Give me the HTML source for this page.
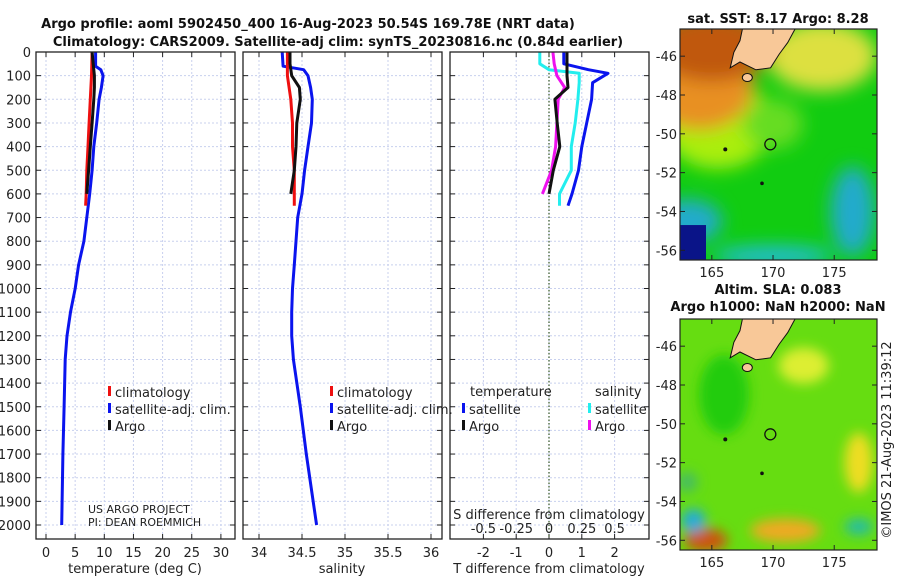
<!DOCTYPE html>
<html><head><meta charset="utf-8">
<style>
body{margin:0;background:#fff;width:900px;height:580px;overflow:hidden;font-family:"Liberation Sans","DejaVu Sans",sans-serif;}
svg text{font-family:"DejaVu Sans","Liberation Sans",sans-serif;}
</style></head>
<body>
<svg id="chart" width="900" height="580" viewBox="0 0 900 580" xmlns="http://www.w3.org/2000/svg">
<text x="308" y="28" font-size="13" font-weight="bold" text-anchor="middle" fill="#111">Argo profile: aoml 5902450_400 16-Aug-2023 50.54S 169.78E (NRT data)</text>
<text x="338" y="46" font-size="13" font-weight="bold" text-anchor="middle" fill="#111">Climatology: CARS2009. Satellite-adj clim: synTS_20230816.nc (0.84d earlier)</text>
<g id="panels"></g>
<g id="maps"></g>
</svg>
<script>
// ---------- DATA ----------
const depthTicks=[0,100,200,300,400,500,600,700,800,900,1000,1100,1200,1300,1400,1500,1600,1700,1800,1900,2000];
const tTicks=[0,5,10,15,20,25,30];
const sTicks=[34,34.5,35,35.5,36];
const sTickLabels=["34","34.5","35","35.5","36"];
const dTTicks=[-2,-1,0,1,2];
const dSTickLabels=["-0.5","-0.25","0","0.25","0.5"];

const climDepth=[0,50,100,200,300,400,500,600,650];
const climT=[7.9,7.85,7.8,7.6,7.4,7.2,7.0,6.9,6.8];
const argoDepth=[0,50,100,150,200,300,400,500,600];
const argoT=[7.9,8.1,8.3,8.3,8.2,7.9,7.6,7.3,7.0];
const satDepth=[0,60,75,100,150,200,300,400,500,600,700,800,900,1000,1100,1200,1300,1500,1700,2000];
const satT=[8.5,8.5,9.4,9.8,9.5,9.1,8.7,8.2,7.9,7.5,7.0,6.5,5.6,5.0,4.2,3.6,3.3,3.1,2.9,2.7];

const climS=[34.33,34.33,34.33,34.37,34.39,34.39,34.41,34.41,34.41];
const argoS=[34.36,34.36,34.38,34.47,34.48,34.44,34.43,34.41,34.37];
const satS=[34.27,34.28,34.52,34.57,34.6,34.62,34.61,34.57,34.53,34.5,34.45,34.43,34.41,34.39,34.38,34.38,34.4,34.48,34.55,34.67];

const diffDepth=[0,50,75,90,130,200,300,400,500,600,650];
const satDT=[0.45,0.45,1.2,1.8,1.33,1.3,1.15,1.0,0.9,0.7,0.58];
const argoDTDepth=[0,50,100,150,200,300,400,500,600];
const argoDT=[0.55,0.55,0.55,0.58,0.18,0.25,0.33,0.13,0.0];
const satDS=[-0.07,-0.07,0.0,0.23,0.23,0.22,0.2,0.17,0.17,0.08,0.08];
const argoDS=[0.03,0.04,0.06,0.12,0.07,0.06,0.05,0.02,-0.05];

// ---------- HELPERS ----------
const NS="http://www.w3.org/2000/svg";
const root=document.getElementById('panels');
function mk(tag,attrs,parent){const e=document.createElementNS(NS,tag);for(const k in attrs)e.setAttribute(k,attrs[k]);(parent||root).appendChild(e);return e;}
const top0=52,bot0=539;
const y=d=>top0+d*0.2365;
function panel(x0,x1,name){
  const g=mk('g',{});
  
  
  return g;
}
function grid(g,x0,x1,xs){
  xs.forEach(px=>{const l=mk('line',{x1:px,x2:px,y1:top0,y2:bot0,stroke:'#c8d0ee','stroke-dasharray':'2,2','stroke-width':1},g);
    
    mk('line',{x1:px,x2:px,y1:top0,y2:top0+5,stroke:'#222'},g);mk('line',{x1:px,x2:px,y1:bot0,y2:bot0-5,stroke:'#222'},g);});
  depthTicks.forEach(d=>{const l=mk('line',{x1:x0,x2:x1,y1:y(d),y2:y(d),stroke:'#c8d0ee','stroke-dasharray':'2,2','stroke-width':1},g);
    
    mk('line',{x1:x0,x2:x0+5,y1:y(d),y2:y(d),stroke:'#222'},g);mk('line',{x1:x1,x2:x1-5,y1:y(d),y2:y(d),stroke:'#222'},g);});
}
function frame(g,x0,x1){const r=mk('rect',{x:x0,y:top0,width:x1-x0,height:bot0-top0,fill:'none',stroke:'#222','stroke-width':1.3},g);
  }
function line(g,xs,ds,fx,color,name,w){
  const pts=xs.map((v,i)=>fx(v).toFixed(1)+','+y(ds[i]).toFixed(1)).join(' ');
  const p=mk('polyline',{points:pts,fill:'none',stroke:color,'stroke-width':w||3,'stroke-linejoin':'round'},g);
  
}
function text(g,x,yy,s,opts,name){const t=mk('text',Object.assign({x:x,y:yy,'font-size':13,fill:'#222'},opts||{}),g);t.textContent=s;
  return t;}
function legendItem(g,x,yy,color,label,name){
  const r=mk('rect',{x:x,y:yy-11,width:3,height:10,fill:color},g);
  
  text(g,x+7,yy,label,{},name);
}

// ---------- PANEL 1: temperature ----------
{const x0=36,x1=235;const fx=v=>46+v*5.83;
 const g=panel(x0,x1,'temperature-panel');
 grid(g,x0,x1,tTicks.map(fx));
 line(g,satT,satDepth,fx,'#0a14ee','temp-satellite-line');
 line(g,climT,climDepth,fx,'#ee1010','temp-climatology-line');
 line(g,argoT,argoDepth,fx,'#111','temp-argo-line');
 frame(g,x0,x1);
 depthTicks.forEach(d=>text(g,31,y(d)+5,String(d),{'text-anchor':'end'},'depth-tick-label'));
 tTicks.forEach(v=>text(g,fx(v),557,String(v),{'text-anchor':'middle'},'temp-tick-label'));
 text(g,135,573,'temperature (deg C)',{'text-anchor':'middle'},'temp-axis-title');
 legendItem(g,108,397,'#ee1010','climatology','legend-climatology');
 legendItem(g,108,414,'#0a14ee','satellite-adj. clim.','legend-satellite');
 legendItem(g,108,431,'#111','Argo','legend-argo');
 text(g,88,513,'US ARGO PROJECT',{'font-size':11},'project-label');
 text(g,88,526,'PI: DEAN ROEMMICH',{'font-size':11},'pi-label');
}
// ---------- PANEL 2: salinity ----------
{const x0=243,x1=442;const fx=v=>259+(v-34)*86;
 const g=panel(x0,x1,'salinity-panel');
 grid(g,x0,x1,sTicks.map(fx));
 line(g,satS,satDepth,fx,'#0a14ee','sal-satellite-line');
 line(g,climS,climDepth,fx,'#ee1010','sal-climatology-line');
 line(g,argoS,argoDepth,fx,'#111','sal-argo-line');
 frame(g,x0,x1);
 sTicks.forEach((v,i)=>text(g,fx(v),557,sTickLabels[i],{'text-anchor':'middle'},'sal-tick-label'));
 text(g,342,573,'salinity',{'text-anchor':'middle'},'sal-axis-title');
 legendItem(g,330,397,'#ee1010','climatology','legend-climatology-2');
 legendItem(g,330,414,'#0a14ee','satellite-adj. clim.','legend-satellite-2');
 legendItem(g,330,431,'#111','Argo','legend-argo-2');
}
// ---------- PANEL 3: differences ----------
{const x0=450,x1=649;const fT=v=>549+v*32.8;const fS=v=>549+v*131.2;
 const g=panel(x0,x1,'difference-panel');
 grid(g,x0,x1,dTTicks.map(fT));
 const z=mk('line',{x1:fT(0),x2:fT(0),y1:top0,y2:bot0,stroke:'#335522','stroke-dasharray':'1.5,2','stroke-width':1.2},g);
 
 line(g,satDT,diffDepth,fT,'#0a14ee','dT-satellite-line');
 line(g,satDS,diffDepth,fS,'#22eeee','dS-satellite-line');
 line(g,argoDS,argoDTDepth,fS,'#ee11ee','dS-argo-line');
 line(g,argoDT,argoDTDepth,fT,'#111','dT-argo-line');
 frame(g,x0,x1);
 dTTicks.forEach(v=>text(g,fT(v),557,String(v),{'text-anchor':'middle'},'dT-tick-label'));
 text(g,549,573,'T difference from climatology',{'text-anchor':'middle'},'dT-axis-title');
 [-0.5,-0.25,0,0.25,0.5].forEach((v,i)=>text(g,fS(v),533,dSTickLabels[i],{'text-anchor':'middle'},'dS-tick-label'));
 text(g,549,519,'S difference from climatology',{'text-anchor':'middle'},'dS-axis-title');
 text(g,470,396,'temperature',{},'legend-temperature-heading');
 text(g,595,396,'salinity',{},'legend-salinity-heading');
 legendItem(g,462,414,'#0a14ee','satellite','legend-dT-satellite');
 legendItem(g,462,431,'#111','Argo','legend-dT-argo');
 legendItem(g,588,414,'#22eeee','satellite','legend-dS-satellite');
 legendItem(g,588,431,'#ee11ee','Argo','legend-dS-argo');
}

// ---------- MAPS ----------
const mroot=document.getElementById('maps');
function m(tag,a,p){const e=document.createElementNS(NS,tag);for(const k in a)e.setAttribute(k,a[k]);(p||mroot).appendChild(e);return e;}
const defs=m('defs',{});
const f=m('filter',{id:'blur'},defs);m('feGaussianBlur',{stdDeviation:'9'},f);
const f2=m('filter',{id:'blur2'},defs);m('feGaussianBlur',{stdDeviation:'6'},f2);
function map(y0,y1,latTop,latBot,name,kind){
  const x0=680,x1=877;
  const g=m('g',{});
  
  const cp=m('clipPath',{id:'cp'+name},defs);m('rect',{x:x0,y:y0,width:x1-x0,height:y1-y0},cp);
  const inner=m('g',{'clip-path':'url(#cp'+name+')'},g);
  const lon=v=>x0+(v-162.4)*12.24;
  const lat=v=>y0+(latTop-v)/(latTop-latBot)*(y1-y0);
  if(kind==='sst'){
    m('rect',{x:x0,y:y0,width:x1-x0,height:y1-y0,fill:'#11cc11'},inner);
    const bl=m('g',{filter:'url(#blur)'},inner);
    m('ellipse',{cx:lon(165.5),cy:lat(-49.5),rx:55,ry:45,fill:'#aaee11'},bl);
    m('ellipse',{cx:lon(174),cy:lat(-46),rx:55,ry:35,fill:'#dde040'},bl);
    m('ellipse',{cx:lon(164),cy:lat(-47.5),rx:55,ry:45,fill:'#e89020'},bl);
    m('ellipse',{cx:lon(165),cy:lat(-45.5),rx:60,ry:35,fill:'#c05810'},bl);
    m('ellipse',{cx:lon(170),cy:lat(-49.5),rx:30,ry:25,fill:'#66dd22'},bl);
    m('ellipse',{cx:lon(176.5),cy:lat(-54),rx:22,ry:45,fill:'#22aacc'},bl);
    m('ellipse',{cx:lon(163),cy:lat(-54.5),rx:35,ry:22,fill:'#22aacc'},bl);
    m('ellipse',{cx:lon(170),cy:lat(-56.3),rx:60,ry:10,fill:'#22bbdd'},bl);
    m('rect',{x:x0,y:lat(-54.7),width:26,height:y1-lat(-54.7),fill:'#0a1488'},inner);
  } else {
    m('rect',{x:x0,y:y0,width:x1-x0,height:y1-y0,fill:'#66dd11'},inner);
    const bl=m('g',{filter:'url(#blur2)'},inner);
    m('ellipse',{cx:lon(166),cy:lat(-48.5),rx:25,ry:40,fill:'#22cc11'},bl);
    m('ellipse',{cx:lon(172.5),cy:lat(-47),rx:25,ry:18,fill:'#ddee33'},bl);
    m('ellipse',{cx:lon(177),cy:lat(-52),rx:14,ry:30,fill:'#eedd22'},bl);
    m('ellipse',{cx:lon(164.5),cy:lat(-56),rx:22,ry:12,fill:'#cc5510'},bl);
    m('ellipse',{cx:lon(171),cy:lat(-55.5),rx:35,ry:12,fill:'#eeaa22'},bl);
    m('ellipse',{cx:lon(163.5),cy:lat(-55),rx:12,ry:12,fill:'#22aadd'},bl);
    m('ellipse',{cx:lon(177),cy:lat(-55.3),rx:14,ry:8,fill:'#22bbaa'},bl);
    m('ellipse',{cx:lon(163),cy:lat(-53),rx:10,ry:10,fill:'#44bb66'},bl);
  }
  const land=m('path',{d:`M${lon(167.5)},${y0} L${lon(171.8)},${y0} L${lon(171.2)},${lat(-45.3)} L${lon(170.5)},${lat(-45.9)} L${lon(169.8)},${lat(-46.6)} L${lon(168.6)},${lat(-46.7)} L${lon(167.3)},${lat(-46.3)} L${lon(166.5)},${lat(-46.6)} L${lon(166.8)},${lat(-45.8)} L${lon(167.3)},${lat(-45.2)} Z`,fill:'#f8c898',stroke:'#111','stroke-width':1},inner);
  
  m('ellipse',{cx:lon(167.9),cy:lat(-47.1),rx:5,ry:4,fill:'#f8c898',stroke:'#111'},inner);
  const c=m('circle',{cx:lon(169.78),cy:lat(-50.54),r:5.5,fill:'none',stroke:'#111','stroke-width':1.3},inner);
  
  m('circle',{cx:lon(166.1),cy:lat(-50.8),r:2,fill:'#111'},inner);
  m('circle',{cx:lon(169.1),cy:lat(-52.55),r:1.8,fill:'#111'},inner);
  m('rect',{x:x0,y:y0,width:x1-x0,height:y1-y0,fill:'none',stroke:'#222','stroke-width':1.2},g);
  [165,170,175].forEach(v=>{m('line',{x1:lon(v),x2:lon(v),y1:y1,y2:y1-5,stroke:'#222'},g);m('line',{x1:lon(v),x2:lon(v),y1:y0,y2:y0+5,stroke:'#222'},g);
    const t=m('text',{x:lon(v),y:y1+17,'font-size':13,'text-anchor':'middle',fill:'#222'},g);t.textContent=String(v);
    });
  [-46,-48,-50,-52,-54,-56].forEach(v=>{m('line',{x1:x0,x2:x0+5,y1:lat(v),y2:lat(v),stroke:'#222'},g);m('line',{x1:x1,x2:x1-5,y1:lat(v),y2:lat(v),stroke:'#222'},g);
    const t=m('text',{x:x0-3,y:lat(v)+5,'font-size':13,'text-anchor':'end',fill:'#222'},g);t.textContent=String(v);
    });
}
map(29,260,-44.6,-56.5,'sst-map','sst');
map(319,550,-44.6,-56.5,'sla-map','sla');
function mt(x,yy,s,name,extra){const t=m('text',Object.assign({x:x,y:yy,'font-size':13,'font-weight':'bold','text-anchor':'middle',fill:'#111'},extra||{}));t.textContent=s;
  }
mt(778,23,'sat. SST: 8.17 Argo: 8.28','sst-map-title');
mt(778,294,'Altim. SLA: 0.083','sla-map-title');
mt(778,311,'Argo h1000: NaN h2000: NaN','sla-map-subtitle');
const cr=m('text',{x:0,y:0,'font-size':13,fill:'#222','text-anchor':'middle',transform:'translate(891,440) rotate(-90)'});
cr.textContent='©IMOS 21-Aug-2023 11:39:12';


</script>
</body></html>
